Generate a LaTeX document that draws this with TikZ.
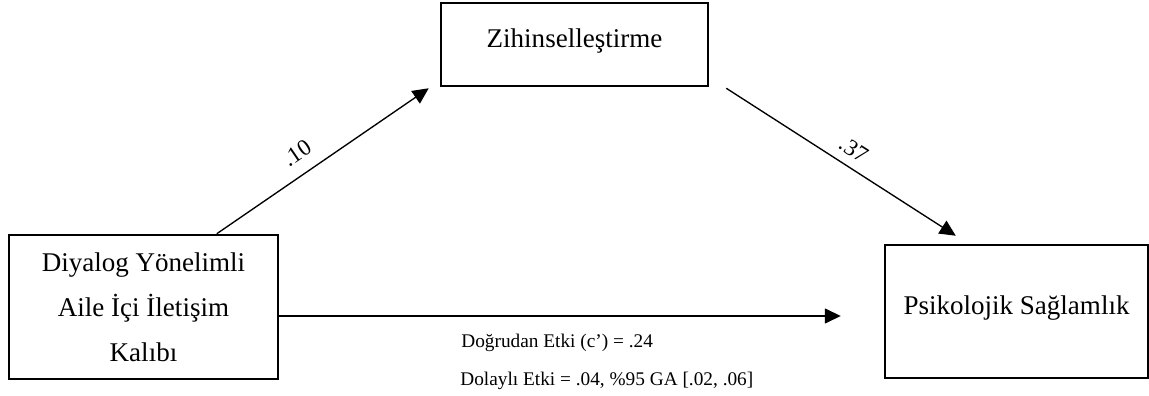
\documentclass[tikz,border=0pt]{standalone}
\usepackage{fontspec}
\setmainfont{Liberation Serif}
\usetikzlibrary{arrows.meta,calc}
\begin{document}
\begin{tikzpicture}[x=0.518pt,y=-0.518pt,
  box/.style={draw, line width=1.3pt, inner sep=0pt,
    font=\fontsize{14pt}{23.3pt}\selectfont, align=center},
  link/.style={line width=0.7pt, -{Triangle[length=8.3pt,width=7.8pt]}},
  coef/.style={font=\fontsize{12pt}{14pt}\selectfont, sloped, inner sep=0pt},
  note/.style={font=\fontsize{10pt}{12pt}\selectfont, anchor=base west, inner sep=0pt}]
\useasboundingbox (0,0) rectangle (1149,396);

% variables of the mediation model
\node[box, minimum width=139.3pt, minimum height=74.6pt] (dia) at (143.5,307)
  {Diyalog Yönelimli\\Aile İçi İletişim\\Kalıbı};
\node[box, minimum width=138.3pt, minimum height=43pt,
  text height=9.6pt, text depth=7pt] (zih) at (574.5,44.5) {Zihinselleştirme};
\node[box, minimum width=136.2pt, minimum height=68.9pt,
  text height=9.6pt, text depth=6pt] (psi) at (1016.5,311.5) {Psikolojik Sağlamlık};

% path a
\coordinate (a1) at ($(dia.north west)+(209,0)$);
\coordinate (a2) at ($(zih.south west)+(-11,1)$);
\draw[link] (a1) -- node[coef, pos=0.434, above=6.5pt] {.10} (a2);

% path b
\coordinate (b1) at ($(zih.south east)+(17,1)$);
\coordinate (b2) at ($(psi.north west)+(72,-8)$);
\draw[link] (b1) -- node[coef, pos=0.514, above=4.6pt] {.37} (b2);

% direct path c'
\coordinate (c1) at ($(dia.east)+(0,9)$);
\coordinate (c2) at ($(psi.west)+(-43,4.5)$);
\draw[link] (c1) -- (c1 -| c2);

\node[note] (direct) at (461,347) {Doğrudan Etki (c’) = .24};
\node[note] (indirect) at (460,385) {Dolaylı Etki = .04, \%95 GA [.02, .06]};
\end{tikzpicture}
\end{document}
